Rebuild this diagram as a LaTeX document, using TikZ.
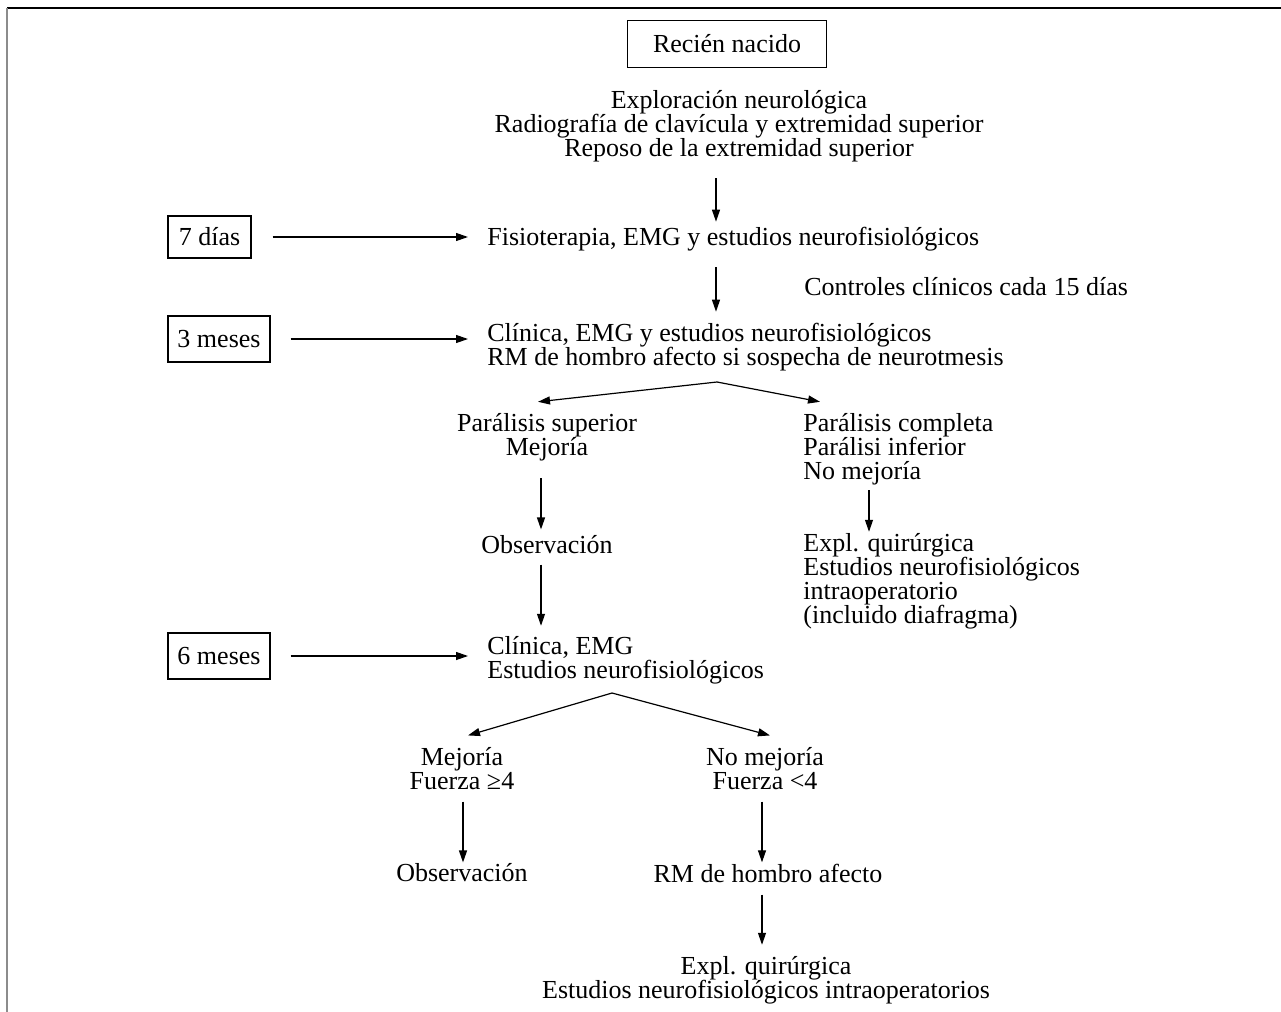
\documentclass[tikz,border=0pt]{standalone}
\usepackage{fontspec}
\setmainfont{Liberation Serif}
\usetikzlibrary{arrows.meta}

\tikzset{
  texto/.style={inner sep=0pt, font=\fontsize{13}{12}\selectfont},
  caja/.style={texto, draw, line width=0.6pt},
  flecha/.style={-{Triangle[length=6pt,width=4pt]}, line width=0.6pt},
}

\begin{document}
\begin{tikzpicture}[x=0.5pt, y=-0.5pt]

  \useasboundingbox (0,0) rectangle (1281,1012);
  \draw [line width=1pt] (7,8) -- (1281,8);
  \draw [line width=0.8pt, black!45] (7,8) -- (7,1012);

  % main column
  \node [caja, minimum width=99.5pt, minimum height=23.5pt] (nacido) at (727,44) {Recién nacido};
  \node [texto, align=center] (explora) at (739,126)
    {Exploración neurológica\\Radiografía de clavícula y extremidad superior\\Reposo de la extremidad superior};
  \node [texto, anchor=west] (fisio) at (487,239) {Fisioterapia, EMG y estudios neurofisiológicos};
  \node [texto, anchor=west] (controles) at (804,287) {Controles clínicos cada 15 días};
  \node [texto, anchor=west, align=left] (clinica1) at (487,347)
    {Clínica, EMG y estudios neurofisiológicos\\RM de hombro afecto si sospecha de neurotmesis};

  % time boxes
  \node [caja, minimum width=41.5pt, minimum height=21pt] (dias7) at (209.5,237) {7 días};
  \node [caja, minimum width=51pt, minimum height=23pt] (meses3) at (219,339) {3 meses};
  \node [caja, minimum width=51pt, minimum height=23pt] (meses6) at (219,656) {6 meses};

  % after 3 months
  \node [texto, align=center] (supmej) at (547,437) {Parálisis superior\\Mejoría};
  \node [texto, anchor=west, align=left] (completa) at (803,449)
    {Parálisis completa\\Parálisi inferior\\No mejoría};
  \node [texto] (observ1) at (547,545) {Observación};
  \node [texto, anchor=west, align=left] (explq1) at (803,581)
    {Expl. quirúrgica\\Estudios neurofisiológicos\\intraoperatorio\\(incluido diafragma)};

  % after 6 months
  \node [texto, anchor=west, align=left] (clinica2) at (487,660) {Clínica, EMG\\Estudios neurofisiológicos};
  \node [texto, align=center] (mejoria) at (462,769) {Mejoría\\Fuerza ≥4};
  \node [texto, align=center] (nomejoria) at (765,769) {No mejoría\\Fuerza <4};
  \node [texto] (observ2) at (462,873) {Observación};
  \node [texto] (rmhombro) at (768,873) {RM de hombro afecto};
  \node [texto, align=center] (explq2) at (766,980)
    {Expl. quirúrgica\\Estudios neurofisiológicos intraoperatorios};

  \coordinate (split1) at (717,382);
  \coordinate (split2) at (612,693);

  \draw [flecha, shorten <=8pt, shorten >=2.5pt] (explora.south -| 716,0) -- (fisio.north -| 716,0);
  \draw [flecha, shorten <=8pt, shorten >=5.5pt] (fisio.south -| 716,0) -- (clinica1.north -| 716,0);
  \draw [flecha, shorten <=10.5pt, shorten >=9.5pt] (dias7.east) -- (dias7.east -| fisio.west);
  \draw [flecha, shorten <=10pt, shorten >=9.5pt] (meses3.east) -- (meses3.east -| clinica1.west);
  \draw [flecha, shorten <=10pt, shorten >=9.5pt] (meses6.east) -- (meses6.east -| clinica2.west);

  \draw [flecha] (split1) -- ([shift={(-9,-11)}]supmej.north);
  \draw [flecha] (split1) -- ([shift={(17,-11)}]completa.north west);
  \draw [flecha, shorten <=8.5pt, shorten >=3pt] (supmej.south -| 541,0) -- (observ1.north -| 541,0);
  \draw [flecha, shorten <=2.5pt, shorten >=0.5pt] (completa.south -| 869,0) -- (explq1.north -| 869,0);
  \draw [flecha, shorten <=5pt, shorten >=5pt] (observ1.south -| 541,0) -- (clinica2.north -| 541,0);

  \draw [flecha] (split2) -- ([shift={(6,-12)}]mejoria.north);
  \draw [flecha] (split2) -- ([shift={(5,-12)}]nomejoria.north);
  \draw [flecha, shorten <=5.5pt, shorten >=0.5pt] (mejoria.south -| 463,0) -- (observ2.north -| 463,0);
  \draw [flecha, shorten <=5.5pt, shorten >=0.5pt] (nomejoria.south -| 762,0) -- (rmhombro.north -| 762,0);
  \draw [flecha, shorten <=6pt, shorten >=5.5pt] (rmhombro.south -| 762,0) -- (explq2.north -| 762,0);
\end{tikzpicture}
\end{document}
